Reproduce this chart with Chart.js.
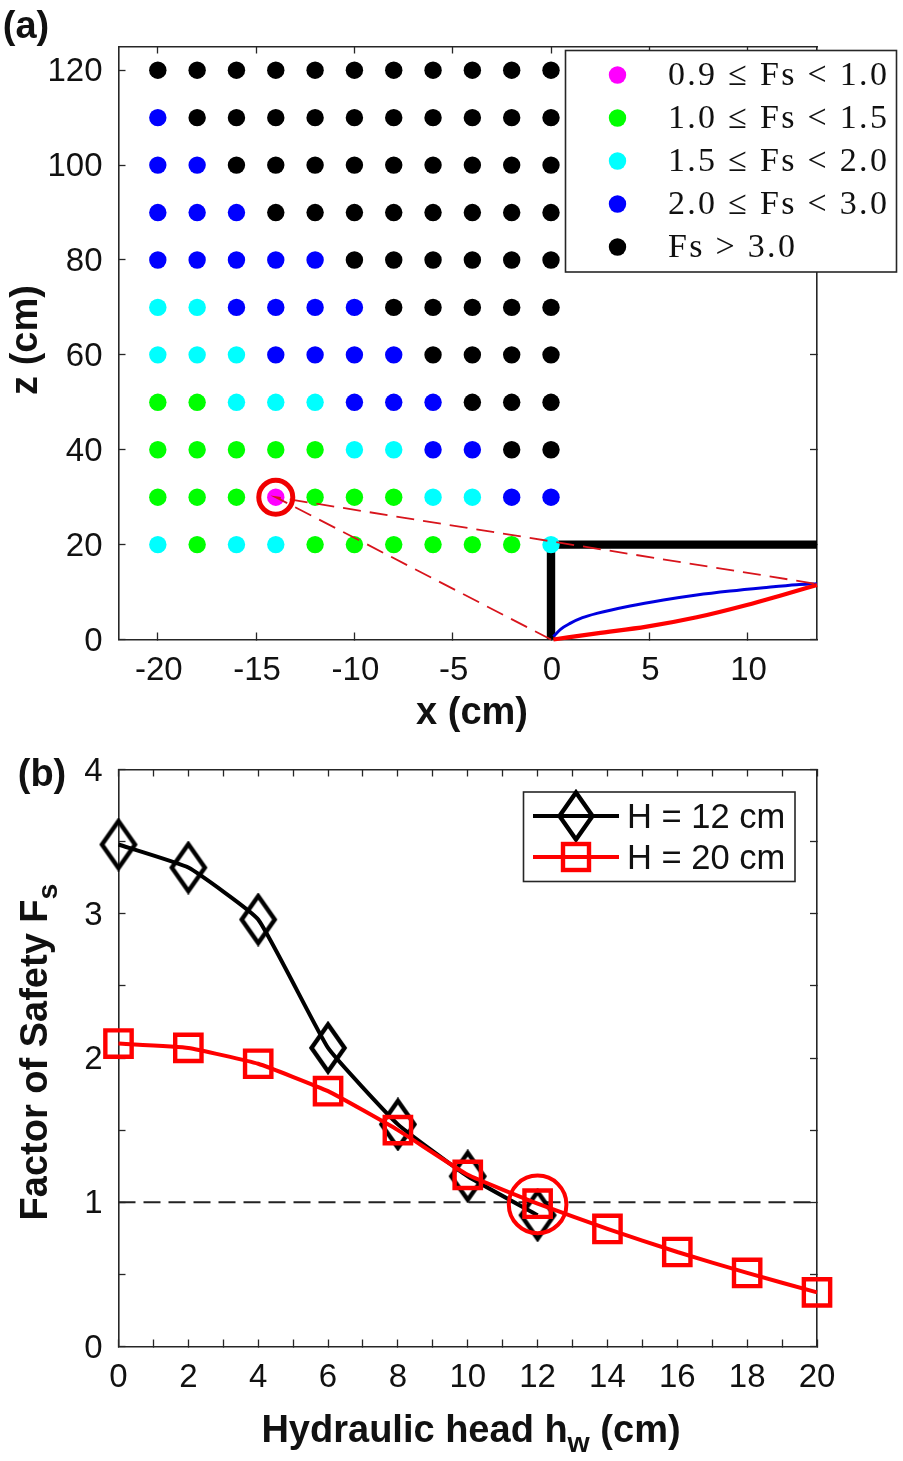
<!DOCTYPE html>
<html>
<head>
<meta charset="utf-8">
<script src="https://cdn.jsdelivr.net/npm/chart.js@4"></script>
<style>
body { margin: 0; background: #fff; }
canvas { position: absolute; left: 0; top: 0; }
</style>
</head>
<body>
<canvas id="chartA" width="903" height="1461"></canvas>
<canvas id="chartB" width="903" height="1461"></canvas>
<script>
// panel (a): grid of slip-surface centres, one class letter per cell
var gridX = [-20, -18, -16, -14, -12, -10, -8, -6, -4, -2, 0];
var gridZ = [120, 110, 100, 90, 80, 70, 60, 50, 40, 30, 20];
var gridClass = [
    'KKKKKKKKKKK',
    'BKKKKKKKKKK',
    'BBKKKKKKKKK',
    'BBBKKKKKKKK',
    'BBBBBKKKKKK',
    'CCBBBBKKKKK',
    'CCCBBBBKKKK',
    'GGCCCBBBKKK',
    'GGGGGCCBBKK',
    'GGGMGGGCCBB',
    'CGCCGGGGGGC'
];
var classKeys = ['M', 'G', 'C', 'B', 'K'];
var classColors = ['#ff00ff', '#00ff00', '#00ffff', '#0000ff', '#000000'];
var classLabels = ['0.9 ≤ Fs < 1.0', '1.0 ≤ Fs < 1.5', '1.5 ≤ Fs < 2.0', '2.0 ≤ Fs < 3.0', 'Fs > 3.0'];

var wallX = [0, 0, 13.53];
var wallZ = [0, 20, 20];
var blueX = [0.12, 0.5, 0.97, 1.6, 2.33, 4.02, 5.72, 7.41, 9.11, 10.8, 12.5, 13.53];
var blueZ = [0.6, 2.2, 3.4, 4.6, 5.5, 7.07, 8.33, 9.39, 10.23, 10.93, 11.56, 11.77];
var redX = [0.12, 2.33, 4.87, 7.41, 9.96, 11.65, 13.53];
var redZ = [0, 1.3, 2.7, 4.68, 7.28, 9.24, 11.5];
var dashX = [0, -14, 13.53];
var dashZ = [0, 30, 11.7];
var ringX = [-14];
var ringZ = [30];

// panel (b)
var headH12 = [0, 2, 4, 6, 8, 10, 12];
var fsH12 = [3.48, 3.32, 2.96, 2.07, 1.54, 1.18, 0.91];
var headH20 = [0, 2, 4, 6, 8, 10, 12, 14, 16, 18, 20];
var fsH20 = [2.10, 2.07, 1.96, 1.77, 1.50, 1.19, 0.99, 0.815, 0.655, 0.51, 0.375];
var limitHead = [0, 20];
var limitFs = [1, 1];
var circleHead = [12];
var circleFs = [0.985];
var seriesLabels = ['H = 12 cm', 'H = 20 cm'];

var axisColor = '#262626';
var tickFont = { family: '"Liberation Sans"', size: 33 };

function toPoints(xs, ys) {
    return xs.map(function (x, i) { return { x: x, y: ys[i] }; });
}

function pin(size) {
    return function (scale) {
        if (scale.isHorizontal()) scale.height = size; else scale.width = size;
    };
}

function axis(position, min, max, step, size, labels, padding, labelOffset) {
    return {
        type: 'linear', position: position, min: min, max: max,
        afterFit: pin(size),
        border: { display: true, color: axisColor, width: 1.6 },
        grid: { drawOnChartArea: false, tickLength: -7, tickColor: axisColor, tickWidth: 1.3 },
        ticks: {
            display: !!labels, stepSize: step, includeBounds: false, autoSkip: false,
            maxRotation: 0, minRotation: 0, color: '#111', font: tickFont, padding: padding,
            labelOffset: labelOffset || 0, callback: labels
        }
    };
}

// text with optional subscript pieces, centred on (x, y)
function drawLabel(ctx, parts, x, y, size, rotate) {
    ctx.save();
    ctx.translate(x, y);
    if (rotate) ctx.rotate(-Math.PI / 2);
    ctx.fillStyle = '#111';
    ctx.textBaseline = 'alphabetic';
    var total = 0;
    parts.forEach(function (p) {
        ctx.font = 'bold ' + (p.sub ? size * 0.75 : size) + 'px "Liberation Sans"';
        total += ctx.measureText(p.text).width;
    });
    var cursor = -total / 2;
    parts.forEach(function (p) {
        ctx.font = 'bold ' + (p.sub ? size * 0.75 : size) + 'px "Liberation Sans"';
        ctx.fillText(p.text, cursor, size * 0.36 + (p.sub ? size * 0.28 : 0));
        cursor += ctx.measureText(p.text).width;
    });
    ctx.restore();
}

function drawBox(ctx, left, top, right, bottom) {
    ctx.fillStyle = '#fff';
    ctx.fillRect(left, top, right - left, bottom - top);
    ctx.strokeStyle = axisColor;
    ctx.lineWidth = 1.6;
    ctx.strokeRect(left, top, right - left, bottom - top);
}

// diamond marker is taller than wide, so it needs its own canvas
var diamond = document.createElement('canvas');
diamond.width = 40;
diamond.height = 54;
(function () {
    var c = diamond.getContext('2d');
    c.strokeStyle = '#000';
    c.lineWidth = 4.4;
    c.beginPath();
    c.moveTo(20, 3.5);
    c.lineTo(36.5, 27);
    c.lineTo(20, 50.5);
    c.lineTo(3.5, 27);
    c.closePath();
    c.stroke();
})();

// panel (a) datasets: first in the list ends up on top
var datasetsA = [
    { data: toPoints(ringX, ringZ), pointRadius: 17, pointBackgroundColor: 'transparent', pointBorderColor: '#f00000', pointBorderWidth: 5, clip: false },
    { data: toPoints(dashX, dashZ), showLine: true, borderColor: '#d8141c', borderWidth: 1.8, borderDash: [18, 9], pointRadius: 0, clip: false }
];
classKeys.forEach(function (key, c) {
    var pts = [];
    gridClass.forEach(function (row, r) {
        gridX.forEach(function (x, i) {
            if (row[i] === key) pts.push({ x: x, y: gridZ[r] });
        });
    });
    datasetsA.push({ label: classLabels[c], data: pts, pointRadius: 8.7, pointBorderWidth: 0, pointBackgroundColor: classColors[c] });
});
datasetsA.push(
    { data: toPoints(redX, redZ), showLine: true, borderColor: '#ff0000', borderWidth: 4.2, pointRadius: 0, cubicInterpolationMode: 'monotone', clip: false },
    { data: toPoints(blueX, blueZ), showLine: true, borderColor: '#0000e0', borderWidth: 3, pointRadius: 0, cubicInterpolationMode: 'monotone', clip: false },
    { data: toPoints(wallX, wallZ), showLine: true, borderColor: '#000', borderWidth: 8.4, pointRadius: 0 }
);

var overlayA = {
    id: 'overlayA',
    afterDraw: function (chart) {
        var ctx = chart.ctx;
        drawLabel(ctx, [{ text: 'x (cm)' }], 472, 710, 38, false);
        drawLabel(ctx, [{ text: 'z (cm)' }], 23, 340, 38, true);
        drawLabel(ctx, [{ text: '(a)' }], 26, 24, 38, false);
        drawBox(ctx, 565.5, 50.5, 896.5, 272);
        var rowsY = [75, 118, 161, 204, 247];
        classLabels.forEach(function (label, i) {
            ctx.fillStyle = classColors[i];
            ctx.beginPath();
            ctx.arc(617.5, rowsY[i], 8.7, 0, Math.PI * 2);
            ctx.fill();
            ctx.fillStyle = '#111';
            ctx.font = '34px "Liberation Serif"';
            ctx.letterSpacing = '2.3px';
            ctx.textBaseline = 'middle';
            ctx.fillText(label, 668, rowsY[i] + 1);
            ctx.letterSpacing = '0px';
        });
    }
};

new Chart(document.getElementById('chartA'), {
    type: 'scatter',
    data: { datasets: datasetsA },
    options: {
        responsive: false, animation: false,
        layout: { autoPadding: false, padding: 0 },
        plugins: { legend: { display: false }, tooltip: { enabled: false } },
        scales: {
            x: axis('bottom', -22, 13.53, 5, 821.5, function (v) { return String(v); }, 19, 1),
            y: axis('left', 0, 125, 20, 118.5, function (v) { return String(v); }, 23, 2),
            x2: axis('top', -22, 13.53, 5, 46.5),
            y2: axis('right', 0, 125, 20, 86)
        }
    },
    plugins: [overlayA]
});

var overlayB = {
    id: 'overlayB',
    afterDraw: function (chart) {
        var ctx = chart.ctx;
        drawLabel(ctx, [{ text: 'Hydraulic head h' }, { text: 'w', sub: true }, { text: ' (cm)' }], 471, 1428, 38, false);
        drawLabel(ctx, [{ text: 'Factor of Safety F' }, { text: 's', sub: true }], 33, 1052, 38, true);
        drawLabel(ctx, [{ text: '(b)' }], 42, 772, 38, false);
        drawBox(ctx, 523.5, 792, 795, 881.5);
        ctx.font = '34.5px "Liberation Sans"';
        ctx.textBaseline = 'middle';
        ctx.lineWidth = 4;
        ctx.strokeStyle = '#000';
        ctx.beginPath();
        ctx.moveTo(533, 816);
        ctx.lineTo(619, 816);
        ctx.stroke();
        ctx.drawImage(diamond, 576 - 20, 816 - 27);
        ctx.strokeStyle = '#ff0000';
        ctx.beginPath();
        ctx.moveTo(533, 857);
        ctx.lineTo(619, 857);
        ctx.stroke();
        ctx.lineWidth = 4.4;
        ctx.strokeRect(563, 844, 26, 26);
        ctx.fillStyle = '#111';
        ctx.fillText(seriesLabels[0], 627, 818);
        ctx.fillText(seriesLabels[1], 627, 859);
    }
};

new Chart(document.getElementById('chartB'), {
    type: 'scatter',
    data: {
        datasets: [
            { label: seriesLabels[1], data: toPoints(headH20, fsH20), showLine: true, borderColor: '#ff0000', borderWidth: 4, tension: 0.12, pointStyle: 'rect', pointRadius: 18.6, pointBackgroundColor: 'transparent', pointBorderColor: '#ff0000', pointBorderWidth: 4.4, clip: false },
            { data: toPoints(circleHead, circleFs), pointRadius: 28.8, pointBackgroundColor: 'transparent', pointBorderColor: '#ff0000', pointBorderWidth: 4, clip: false },
            { label: seriesLabels[0], data: toPoints(headH12, fsH12), showLine: true, borderColor: '#000', borderWidth: 4, tension: 0.12, pointStyle: diamond, clip: false },
            { data: toPoints(limitHead, limitFs), showLine: true, borderColor: '#222', borderWidth: 1.8, borderDash: [17, 8], pointRadius: 0 }
        ]
    },
    options: {
        responsive: false, animation: false,
        layout: { autoPadding: false, padding: 0 },
        plugins: { legend: { display: false }, tooltip: { enabled: false } },
        scales: {
            x: axis('bottom', 0, 20, 1, 114.5, function (v) { return v % 2 === 0 ? String(v) : ''; }, 19, 0),
            y: axis('left', 0, 4, 0.5, 118.5, function (v) { return v % 1 === 0 ? String(v) : ''; }, 23, 2),
            x2: axis('top', 0, 20, 1, 769.5),
            y2: axis('right', 0, 4, 0.5, 86)
        }
    },
    plugins: [overlayB]
});
</script>
</body>
</html>
